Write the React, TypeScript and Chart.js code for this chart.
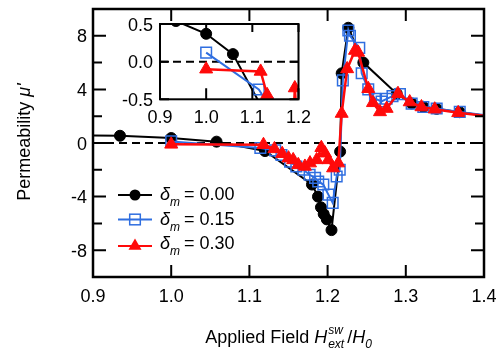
import React, { useEffect, useRef } from 'react';
import { Chart, registerables } from 'chart.js';

Chart.register(...registerables);

const FONT = '"Liberation Sans", Arial, Helvetica, sans-serif';

// ---- axis ticks ----
const mainXTicks = [0.9, 1.0, 1.1, 1.2, 1.3, 1.4];
const mainYTicks = [-8, -6, -4, -2, 0, 2, 4, 6, 8];
const mainYLabels = [-8, -4, 0, 4, 8];
const insetXTicks = [0.9, 1.0, 1.1, 1.2];
const insetYTicks = [-0.5, 0.0, 0.5];

// ---- legend ----
const legendValues = ['0.00', '0.15', '0.30'];

// ---- data: delta_m = 0.00 ----
const blackX = [0.87, 0.9345, 1.0, 1.058, 1.12, 1.18, 1.1877, 1.1915, 1.195, 1.199, 1.205, 1.216, 1.218, 1.2265, 1.2457, 1.2884, 1.3075, 1.3224, 1.3395, 1.369, 1.42];
const blackY = [0.56, 0.54, 0.37, 0.1, -0.6, -3.1, -4.0, -4.8, -5.3, -5.7, -6.5, -0.64, 5.2, 8.6, 6.0, 3.68, 2.95, 2.7, 2.55, 2.3, 1.9];

// ---- data: delta_m = 0.15 ----
const blueX = [1.0, 1.114, 1.133, 1.141, 1.152, 1.16, 1.169, 1.177, 1.184, 1.188, 1.1945, 1.201, 1.2065, 1.2116, 1.2155, 1.2195, 1.2265, 1.2286, 1.2405, 1.2436, 1.252, 1.2606, 1.269, 1.2755, 1.283, 1.2925, 1.3075, 1.3224, 1.3395, 1.369, 1.42];
const blueY = [0.12, -0.37, -0.55, -0.9, -1.4, -1.75, -2.0, -2.37, -2.6, -2.87, -3.1, -3.85, -4.47, -2.5, -2.0, 4.67, 8.4, 8.0, 7.1, 5.2, 4.0, 3.3, 3.1, 3.3, 3.5, 3.65, 2.94, 2.69, 2.57, 2.32, 1.95];

// ---- data: delta_m = 0.30 ----
const redX = [1.0, 1.118, 1.132, 1.142, 1.15, 1.156, 1.1625, 1.171, 1.1775, 1.186, 1.192, 1.1967, 1.201, 1.207, 1.2137, 1.218, 1.225, 1.235, 1.239, 1.252, 1.258, 1.267, 1.2755, 1.29, 1.305, 1.32, 1.337, 1.367, 1.42];
const redY = [-0.1, -0.13, -0.44, -0.8, -1.13, -1.26, -1.63, -1.75, -1.5, -1.26, -0.35, -0.76, -1.26, -1.87, -1.5, 2.2, 5.53, 6.9, 6.76, 4.05, 3.0, 2.32, 2.57, 3.68, 3.06, 2.69, 2.52, 2.25, 1.9];

const BLACK = '#000000';
const BLUE = '#2f6ee0';
const RED = '#ff0a0a';

const R_CIRCLE = 5.5;
const R_RECT = 7.5;
const R_TRI = 7.5;

function pts(xs: number[], ys: number[]) {
  return xs.map((x, i) => ({ x, y: ys[i] }));
}

function makeDatasets(): any[] {
  return [
    {
      label: 'dm000', data: pts(blackX, blackY), showLine: true, tension: 0,
      borderColor: BLACK, borderWidth: 2, pointStyle: 'circle', pointRadius: R_CIRCLE,
      pointBackgroundColor: BLACK, pointBorderColor: BLACK, pointBorderWidth: 1, order: 3,
    },
    {
      label: 'dm015', data: pts(blueX, blueY), showLine: true, tension: 0,
      borderColor: BLUE, borderWidth: 2, pointStyle: 'rect', pointRadius: R_RECT,
      pointBackgroundColor: 'rgba(0,0,0,0)', pointBorderColor: BLUE, pointBorderWidth: 1.5, order: 2,
    },
    {
      label: 'dm030', data: pts(redX, redY), showLine: true, tension: 0,
      borderColor: RED, borderWidth: 2.5, pointStyle: 'triangle', pointRadius: R_TRI,
      pointBackgroundColor: RED, pointBorderColor: RED, pointBorderWidth: 1, order: 1,
    },
  ];
}

type Seg = { t?: string; it?: boolean; sz?: number; dy?: number; up?: string; dn?: string; pad?: number };

function fontOf(it: boolean | undefined, sz: number) {
  return `${it ? 'italic ' : ''}${sz}px ${FONT}`;
}

function segWidth(ctx: CanvasRenderingContext2D, s: Seg) {
  ctx.font = fontOf(s.it, s.sz ?? 18);
  let w: number;
  if (s.up !== undefined || s.dn !== undefined) {
    w = Math.max(ctx.measureText(s.up || '').width, ctx.measureText(s.dn || '').width);
  } else {
    w = ctx.measureText(s.t || '').width;
  }
  return w + (s.pad ?? 0);
}

function drawSegs(ctx: CanvasRenderingContext2D, segs: Seg[], x: number, y: number, center: boolean) {
  const ws = segs.map((s) => segWidth(ctx, s));
  const total = ws.reduce((a, b) => a + b, 0);
  let cx = center ? x - total / 2 : x;
  ctx.textAlign = 'left';
  ctx.textBaseline = 'alphabetic';
  ctx.fillStyle = '#000';
  segs.forEach((s, i) => {
    ctx.font = fontOf(s.it, s.sz ?? 18);
    if (s.up !== undefined || s.dn !== undefined) {
      if (s.up) ctx.fillText(s.up, cx, y - 9);
      if (s.dn) ctx.fillText(s.dn, cx, y + 5);
    } else {
      ctx.fillText(s.t || '', cx, y + (s.dy ?? 0));
    }
    cx += ws[i];
  });
}

function drawMarker(ctx: CanvasRenderingContext2D, kind: number, x: number, y: number) {
  ctx.save();
  if (kind === 0) {
    ctx.fillStyle = BLACK;
    ctx.beginPath();
    ctx.arc(x, y, R_CIRCLE, 0, Math.PI * 2);
    ctx.fill();
  } else if (kind === 1) {
    const h = R_RECT * Math.SQRT1_2;
    ctx.strokeStyle = BLUE;
    ctx.lineWidth = 1.5;
    ctx.strokeRect(x - h, y - h, 2 * h, 2 * h);
  } else {
    const r = R_TRI;
    ctx.fillStyle = RED;
    ctx.beginPath();
    ctx.moveTo(x, y - r);
    ctx.lineTo(x + r * 0.866, y + r / 2);
    ctx.lineTo(x - r * 0.866, y + r / 2);
    ctx.closePath();
    ctx.fill();
  }
  ctx.restore();
}

function drawZeroLine(chart: any) {
  const { ctx, chartArea, scales } = chart;
  const y0 = scales.y.getPixelForValue(0);
  ctx.save();
  ctx.strokeStyle = '#000';
  ctx.lineWidth = 2;
  ctx.setLineDash([8, 5]);
  ctx.beginPath();
  ctx.moveTo(chartArea.left, y0);
  ctx.lineTo(chartArea.right, y0);
  ctx.stroke();
  ctx.restore();
}

const mainPlugin = {
  id: 'mainDecor',
  beforeDatasetsDraw(chart: any) {
    drawZeroLine(chart);
  },
  afterDatasetsDraw(chart: any) {
    const { ctx, chartArea, scales } = chart;
    const { left, right, top, bottom } = chartArea;
    ctx.save();
    ctx.strokeStyle = '#000';
    ctx.lineWidth = 2;
    ctx.beginPath();
    mainXTicks.forEach((v) => {
      const px = scales.x.getPixelForValue(v);
      ctx.moveTo(px, bottom);
      ctx.lineTo(px, bottom - 12);
      ctx.moveTo(px, top);
      ctx.lineTo(px, top + 12);
    });
    mainYTicks.forEach((v) => {
      const py = scales.y.getPixelForValue(v);
      const len = mainYLabels.includes(v) ? 13 : 9;
      ctx.moveTo(left, py);
      ctx.lineTo(left + len, py);
      ctx.moveTo(right, py);
      ctx.lineTo(right - len, py);
    });
    ctx.stroke();
    ctx.lineWidth = 2.5;
    ctx.strokeRect(left, top, right - left, bottom - top);

    // tick labels
    ctx.fillStyle = '#000';
    ctx.font = `18px ${FONT}`;
    ctx.textAlign = 'center';
    ctx.textBaseline = 'alphabetic';
    mainXTicks.forEach((v) => {
      ctx.fillText(v.toFixed(1), scales.x.getPixelForValue(v), bottom + 25);
    });
    ctx.textAlign = 'right';
    mainYLabels.forEach((v) => {
      ctx.fillText(String(v), left - 6, scales.y.getPixelForValue(v) + 6.5);
    });

    // axis titles
    drawSegs(
      ctx,
      [
        { t: 'Applied Field ' },
        { t: 'H', it: true, pad: 1 },
        { up: 'sw', dn: 'ext', it: true, sz: 12, pad: 3 },
        { t: '/' },
        { t: 'H', it: true },
        { t: '0', it: true, sz: 12, dy: 5 },
      ],
      (left + right) / 2,
      343,
      true
    );
    ctx.save();
    ctx.translate(30, 142);
    ctx.rotate(-Math.PI / 2);
    drawSegs(ctx, [{ t: 'Permeability ' }, { t: "\u03bc'", it: true }], 0, 0, true);
    ctx.restore();

    // legend
    const rows = [195, 219.5, 246];
    const textBase = [200, 224.5, 248.5];
    const colors = [BLACK, BLUE, RED];
    rows.forEach((ry, i) => {
      ctx.strokeStyle = colors[i];
      ctx.lineWidth = 2;
      ctx.beginPath();
      ctx.moveTo(118, ry);
      ctx.lineTo(152, ry);
      ctx.stroke();
      drawMarker(ctx, i, 135, ry);
      drawSegs(
        ctx,
        [
          { t: '\u03b4', it: true },
          { t: 'm', it: true, sz: 12, dy: 6, pad: 4 },
          { t: '= ' + legendValues[i] },
        ],
        160,
        textBase[i],
        false
      );
    });
    ctx.restore();
  },
};

const insetPlugin = {
  id: 'insetDecor',
  beforeDraw(chart: any) {
    const { ctx, chartArea } = chart;
    ctx.save();
    ctx.fillStyle = '#fff';
    ctx.fillRect(chartArea.left, chartArea.top, chartArea.right - chartArea.left, chartArea.bottom - chartArea.top);
    ctx.restore();
  },
  beforeDatasetsDraw(chart: any) {
    drawZeroLine(chart);
  },
  afterDatasetsDraw(chart: any) {
    const { ctx, chartArea, scales } = chart;
    const { left, right, top, bottom } = chartArea;
    ctx.save();
    ctx.strokeStyle = '#000';
    ctx.lineWidth = 2;
    ctx.beginPath();
    insetXTicks.forEach((v) => {
      const px = scales.x.getPixelForValue(v);
      ctx.moveTo(px, bottom);
      ctx.lineTo(px, bottom - 11);
      ctx.moveTo(px, top);
      ctx.lineTo(px, top + 8);
    });
    insetYTicks.forEach((v) => {
      const py = scales.y.getPixelForValue(v);
      ctx.moveTo(left, py);
      ctx.lineTo(left + 9, py);
      ctx.moveTo(right, py);
      ctx.lineTo(right - 9, py);
    });
    ctx.stroke();
    ctx.lineWidth = 2;
    ctx.strokeRect(left, top, right - left, bottom - top);

    ctx.fillStyle = '#000';
    ctx.font = `18px ${FONT}`;
    ctx.textAlign = 'center';
    ctx.textBaseline = 'alphabetic';
    insetXTicks.forEach((v) => {
      ctx.fillText(v.toFixed(1), scales.x.getPixelForValue(v), bottom + 24);
    });
    ctx.textAlign = 'right';
    insetYTicks.forEach((v) => {
      ctx.fillText(v.toFixed(1), left - 7, scales.y.getPixelForValue(v) + 6.5);
    });
    ctx.restore();
  },
};

export default function App() {
  const mainRef = useRef<HTMLCanvasElement>(null);
  const insetRef = useRef<HTMLCanvasElement>(null);

  useEffect(() => {
    const main = new Chart(mainRef.current as HTMLCanvasElement, {
      type: 'scatter',
      data: { datasets: makeDatasets() },
      options: {
        responsive: false,
        maintainAspectRatio: false,
        animation: false,
        devicePixelRatio: 1,
        layout: { padding: { left: 93, top: 9, right: 19, bottom: 77 } },
        plugins: { legend: { display: false }, tooltip: { enabled: false } },
        scales: {
          x: { type: 'linear', display: false, min: 0.9, max: 1.4 },
          y: { type: 'linear', display: false, min: -10, max: 10 },
        },
      } as any,
      plugins: [mainPlugin],
    });
    const inset = new Chart(insetRef.current as HTMLCanvasElement, {
      type: 'scatter',
      data: { datasets: makeDatasets() },
      options: {
        responsive: false,
        maintainAspectRatio: false,
        animation: false,
        devicePixelRatio: 1,
        layout: { padding: { left: 60, top: 20, right: 21.5, bottom: 30.7 } },
        plugins: { legend: { display: false }, tooltip: { enabled: false } },
        scales: {
          x: { type: 'linear', display: false, min: 0.9, max: 1.2 },
          y: { type: 'linear', display: false, min: -0.5, max: 0.5 },
        },
      } as any,
      plugins: [insetPlugin],
    });
    return () => {
      main.destroy();
      inset.destroy();
    };
  }, []);

  return (
    <div style={{ position: 'fixed', left: 0, top: 0, width: 503, height: 354, background: '#fff' }}>
      <canvas
        ref={mainRef}
        width={503}
        height={354}
        style={{ position: 'absolute', left: 0, top: 0, width: 503, height: 354 }}
      />
      <canvas
        ref={insetRef}
        width={220}
        height={126}
        style={{ position: 'absolute', left: 100, top: 4, width: 220, height: 126 }}
      />
    </div>
  );
}
